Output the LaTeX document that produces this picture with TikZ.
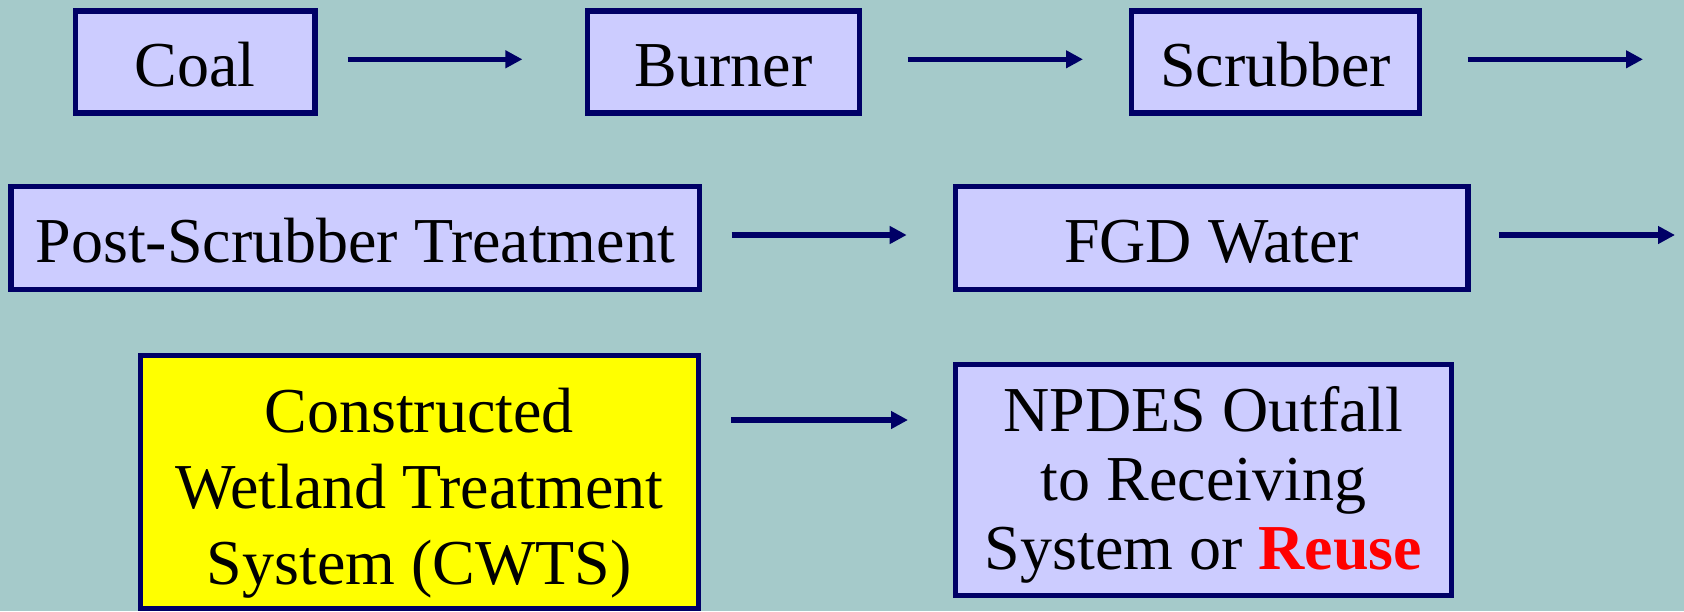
\documentclass[tikz,border=0pt]{standalone}
\usepackage{fontspec}
\setmainfont{Liberation Serif}
\newfontfamily\tnr{Liberation Serif}
\usetikzlibrary{arrows.meta}
\definecolor{bgc}{HTML}{A5CACA}
\definecolor{boxfill}{HTML}{CCCCFF}
\definecolor{navy}{HTML}{000066}
\definecolor{hilite}{HTML}{FFFF00}
\definecolor{redtxt}{HTML}{FF0000}
\tikzset{
  box/.style={draw=navy, line width=2.7pt, fill=boxfill, inner sep=0pt,
    text height=24pt, text depth=0pt,
    align=center, font=\tnr\fontsize{32pt}{38.5pt}\selectfont},
  txt/.style={inner sep=0pt, align=center, font=\tnr\fontsize{32pt}{38pt}\selectfont},
  arr/.style={draw=navy, line width=2.7pt, -{Triangle[length=8.5pt,width=8.5pt]}},
}
\begin{document}
\begin{tikzpicture}[x=0.5pt,y=-0.5pt]
\fill[bgc] (0,0) rectangle (1684,611);
\useasboundingbox (0,0) rectangle (1684,611);
% row 1
\node[box, minimum width=119.6pt, minimum height=51pt] (coal) at (195.3,62) {Coal};
\node[box, minimum width=135.8pt, minimum height=51pt] (burner) at (723.5,62) {Burner};
\node[box, minimum width=143.8pt, minimum height=51pt] (scrub) at (1275.5,62) {Scrubber};
% row 2
\node[box, minimum width=344.1pt, minimum height=51.3pt] (post) at (355.2,238) {Post-Scrubber Treatment};
\node[box, minimum width=256.25pt, minimum height=51.3pt] (fgd) at (1211.65,238) {FGD Water};
% row 3
\node[box, fill=hilite, minimum width=279.05pt, minimum height=126.3pt] (cwts) at (419.25,482) {};
\node[txt, yshift=-5.5pt] (cwtsT) at (cwts.center)
  {Constructed\\Wetland Treatment\\System (CWTS)};
\node[box, minimum width=247.8pt, minimum height=115.3pt] (npdes) at (1203.5,480) {};
\node[txt, yshift=-2.5pt, font=\tnr\fontsize{32pt}{34.5pt}\selectfont] (npdesT) at (npdes.center)
  {NPDES Outfall\\to Receiving\\System or \textcolor{redtxt}{\textbf{Reuse}}};
% free ends
\coordinate (out1) at (1643,59.3);
\coordinate (out2) at (1675,235);
% arrows
\draw[arr] ([shift={(15pt,1.35pt)}]coal.east) -- ([shift={(-31.3pt,1.35pt)}]burner.west);
\draw[arr] ([shift={(22.8pt,1.35pt)}]burner.east) -- ([shift={(-23pt,1.35pt)}]scrub.west);
\draw[arr] ([shift={(22.8pt,1.35pt)}]scrub.east) -- (out1);
\draw[arr] ([shift={(14.75pt,1.5pt)}]post.east) -- ([shift={(-23pt,1.5pt)}]fgd.west);
\draw[arr] ([shift={(14.2pt,1.5pt)}]fgd.east) -- (out2);
\draw[arr] ([shift={(15pt,31pt)}]cwts.east) -- ([shift={(-22.5pt,30pt)}]npdes.west);
\end{tikzpicture}
\end{document}
